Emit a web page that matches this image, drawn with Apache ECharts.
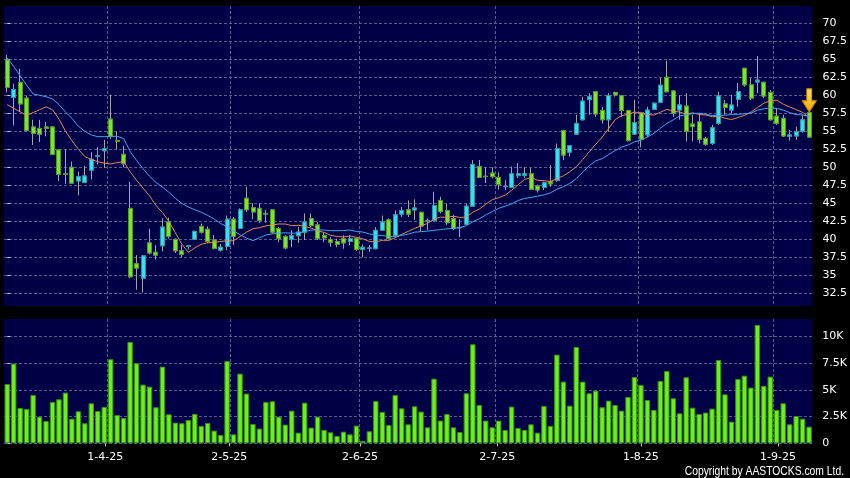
<!DOCTYPE html>
<html><head><meta charset="utf-8">
<script src="https://cdn.jsdelivr.net/npm/echarts@6/dist/echarts.min.js"></script>
<style>html,body{margin:0;padding:0;background:#000;}#c{width:850px;height:478px;}</style>
</head><body><div id="c"></div>
<script>
const dates = [
'11-3-25','12-3-25','13-3-25','14-3-25','17-3-25','18-3-25','19-3-25','20-3-25','21-3-25','24-3-25','25-3-25','26-3-25','27-3-25','28-3-25','31-3-25',
'1-4-25','2-4-25','3-4-25','7-4-25','8-4-25','9-4-25','10-4-25','11-4-25','14-4-25','15-4-25','16-4-25','17-4-25','22-4-25','23-4-25','24-4-25','25-4-25','28-4-25','29-4-25','30-4-25',
'2-5-25','6-5-25','7-5-25','8-5-25','9-5-25','12-5-25','13-5-25','14-5-25','15-5-25','16-5-25','19-5-25','20-5-25','21-5-25','22-5-25','23-5-25','26-5-25','27-5-25','28-5-25','29-5-25','30-5-25',
'2-6-25','3-6-25','4-6-25','5-6-25','6-6-25','9-6-25','10-6-25','11-6-25','12-6-25','13-6-25','16-6-25','17-6-25','18-6-25','19-6-25','20-6-25','23-6-25','24-6-25','25-6-25','26-6-25','27-6-25','30-6-25',
'2-7-25','3-7-25','4-7-25','7-7-25','8-7-25','9-7-25','10-7-25','11-7-25','14-7-25','15-7-25','16-7-25','17-7-25','18-7-25','21-7-25','22-7-25','23-7-25','24-7-25','25-7-25','28-7-25','29-7-25','30-7-25','31-7-25',
'1-8-25','4-8-25','5-8-25','6-8-25','7-8-25','8-8-25','11-8-25','12-8-25','13-8-25','14-8-25','15-8-25','18-8-25','19-8-25','20-8-25','21-8-25','22-8-25','25-8-25','26-8-25','27-8-25','28-8-25','29-8-25',
'1-9-25','2-9-25','3-9-25','4-9-25','5-9-25','8-9-25','9-9-25'];

const opens = [64.9,59.7,61.8,59.6,55.6,55.4,55.6,55.6,52.4,49.1,
50.0,48.1,47.9,49.6,51.55,52.3,56.7,53.7,51.8,44.3,
36.6,34.6,39.5,38.2,39.1,42.4,40.0,38.4,39.0,40.0,
41.8,41.4,39.9,38.5,39.0,42.8,41.5,45.7,44.4,44.3,
43.6,44.1,41.5,40.4,40.0,40.5,41.0,42.9,42.0,40.55,
39.95,39.7,40.1,39.7,40.1,38.6,38.75,38.7,41.25,42.7,
40.55,43.5,44.1,44.07,43.75,42.55,42.6,45.4,44.0,42.9,
41.6,42.1,44.6,50.1,48.75,49.2,48.6,47.3,47.2,48.85,
48.85,49.1,47.4,47.2,48.0,48.2,55.1,52.1,54.6,56.6,
59.4,60.5,57.9,56.6,60.4,59.95,57.9,54.6,57.6,54.5,
58.05,59.0,62.5,60.6,57.96,58.5,56.0,56.3,54.0,53.3,
56.1,58.8,57.95,59.45,63.75,61.45,61.85,61.8,60.4,57.1,
56.8,54.3,54.35,55.0,57.6];
const closes = [61.1,60.8,58.8,55.1,54.7,54.6,55.4,51.8,49.0,49.0,
47.8,48.7,48.8,51.1,51.6,52.6,54.3,53.6,50.5,34.8,
36.0,37.7,38.1,37.8,41.7,40.4,38.4,37.9,39.1,41.1,
41.0,39.7,38.75,38.9,42.8,40.4,44.1,44.1,43.8,42.6,
43.5,41.0,40.1,38.8,40.5,41.0,42.4,41.9,40.1,40.2,
39.6,39.3,39.5,40.1,38.6,38.9,38.8,41.25,42.4,40.1,
43.4,44.0,43.5,44.35,41.85,42.6,44.7,43.85,42.3,41.5,
41.65,44.6,50.4,48.6,48.7,48.7,47.6,47.35,49.1,49.1,
49.1,46.95,46.85,47.85,47.7,52.6,51.7,53.0,56.1,59.2,
59.8,57.4,56.6,59.95,60.05,57.9,53.7,56.2,53.9,57.95,
58.9,61.4,60.5,57.5,58.66,55.0,55.65,53.9,53.2,55.5,
59.9,58.3,58.65,60.5,61.45,59.6,62.1,59.9,56.6,56.1,
54.35,54.5,54.95,56.6,54.2];
const lows = [60.4,55.8,57.7,55.0,53.1,53.5,54.3,51.7,48.1,47.7,
47.7,46.1,47.8,48.3,50.4,49.9,53.9,52.5,50.0,34.6,
33.0,32.6,37.9,37.2,38.3,40.1,38.1,37.5,38.6,39.9,
40.8,39.5,38.6,38.3,38.5,39.2,41.4,43.8,42.8,42.3,
42.3,40.8,39.6,38.6,38.9,39.5,39.9,41.7,39.9,39.6,
39.0,38.9,38.7,39.2,38.4,37.5,38.25,38.6,41.2,40.0,
40.4,43.1,43.1,42.7,41.1,41.3,42.45,43.6,42.0,41.3,
40.3,42.0,44.5,48.5,47.8,48.5,46.9,46.85,47.1,48.5,
48.5,46.9,46.5,46.85,47.3,48.0,51.0,51.5,54.5,56.5,
57.3,57.0,56.1,54.95,59.8,57.0,53.6,54.5,52.8,54.2,
57.95,58.9,60.4,57.0,56.6,53.6,53.6,53.3,53.0,53.1,
55.9,57.3,57.5,58.4,61.2,59.35,60.3,59.6,56.5,55.9,
54.2,53.7,53.8,54.8,54.1];
const highs = [65.6,61.6,63.7,59.9,56.6,56.6,56.3,55.7,52.5,52.5,
50.8,49.4,50.2,52.1,52.8,53.8,60.1,55.0,53.0,48.0,
37.8,37.8,41.5,39.2,42.9,43.0,40.1,39.2,39.2,41.2,
42.2,41.8,40.6,39.35,43.3,43.1,44.3,47.3,45.0,45.0,
44.1,44.1,41.7,40.55,41.25,41.7,43.6,43.6,42.4,41.0,
40.3,40.1,40.55,40.55,40.3,39.3,39.2,41.7,43.3,42.9,
44.0,44.5,45.4,45.55,43.85,42.9,46.6,45.9,44.9,43.4,
42.8,44.9,51.0,51.0,50.0,50.0,49.3,48.2,50.1,50.6,
50.0,49.9,47.6,48.0,50.3,53.3,55.2,53.1,57.3,59.8,
60.3,60.5,58.4,60.3,60.5,59.95,57.95,59.35,57.7,58.4,
59.0,62.4,64.8,60.7,60.0,60.3,57.3,57.5,54.2,55.9,
60.5,59.35,60.05,61.7,63.8,62.4,65.45,61.9,60.75,58.2,
57.3,55.2,55.65,57.3,57.7];
// volume in thousands of shares
const volumes = [5.56,7.47,3.31,3.22,4.53,2.5,2.09,3.88,4.13,4.75,
2.31,3.0,1.88,3.75,3.03,3.41,7.88,2.66,2.38,9.5,
7.5,5.5,5.31,3.38,7.19,2.72,1.94,1.88,2.19,2.75,
1.63,1.91,1.19,0.78,7.72,0.84,6.53,4.66,1.81,1.38,
3.88,3.94,2.5,1.75,3.06,1.0,3.81,1.47,2.5,1.25,
1.03,0.69,1.09,0.84,1.66,0.22,1.13,3.97,2.94,1.72,
4.53,3.28,1.78,3.47,2.97,1.5,6.06,2.13,2.75,1.5,
1.06,4.69,9.28,3.59,2.13,1.5,2.13,1.25,3.44,1.44,
1.25,1.78,1.0,3.5,1.63,8.31,5.78,3.53,9.03,5.78,
4.69,4.94,3.38,4.0,3.59,3.06,4.34,6.22,5.47,4.06,
3.13,5.84,6.78,4.22,2.81,6.19,3.34,2.75,2.88,3.25,
7.81,4.59,2.03,6.03,6.34,5.22,11.09,5.38,6.25,3.13,
3.75,1.78,2.56,2.31,1.56];
const ma10Head = [58.7,58.2,57.7,57.2,57.6,58.0,58.4,58.0,56.7];
const ma20Head = [65.2,64.0,62.7,61.4,60.2,60.0,59.8,59.5,58.7,57.7,56.8,55.7,55.0,54.5,54.25,54.25,54.3,54.3,54.0];
const priceTicks = [32.5,35,37.5,40,42.5,45,47.5,50,52.5,55,57.5,60,62.5,65,67.5,70];
const volTicks = [0,2.5,5,7.5,10];
const monthLabels = ['1-4-25','2-5-25','2-6-25','2-7-25','1-8-25','1-9-25'];
const copyright = 'Copyright by AASTOCKS.com Ltd.';

function movingAvg(head, n) {
  return closes.map((c, i) => {
    if (i < n - 1) return head[i];
    let s = 0; for (let k = i - n + 1; k <= i; k++) s += closes[k];
    return +(s / n).toFixed(3);
  });
}
const ohlcFull = dates.map((d, i) => [opens[i], closes[i], lows[i], highs[i]]);
const ohlcBody = dates.map((d, i) => [opens[i], closes[i], Math.min(opens[i], closes[i]), Math.max(opens[i], closes[i])]);
const labelIdx = monthLabels.map(l => dates.indexOf(l));
// vertical grid lines sit on the boundary right after each month's first session
const vGridPos = labelIdx.map(i => i + 0.5);
const lastIdx = dates.length - 1;

const NAVY = '#000046';
const GRID = '#5a5a90';
const FONT = 'DejaVu Sans';
const dash = {color: GRID, width: 1, type: [3, 2]};
const hiddenCat = (g) => ({type: 'category', gridIndex: g, data: dates, boundaryGap: true,
  axisLine: {show: false}, axisTick: {show: false}, axisLabel: {show: false}, splitLine: {show: false}});
const vGridAxis = (g) => ({type: 'value', gridIndex: g, min: -0.5, max: lastIdx + 0.5,
  axisLine: {show: false}, axisTick: {show: false, customValues: vGridPos},
  axisLabel: {show: false, customValues: vGridPos}, splitLine: {show: true, lineStyle: dash}});

const chart = echarts.init(document.getElementById('c'));
chart.setOption({
  animation: false,
  backgroundColor: '#000000',
  textStyle: {fontFamily: FONT},
  grid: [
    {left: 4, right: 36, top: 6, height: 300, show: true, backgroundColor: NAVY, borderWidth: 0},
    {left: 4, right: 36, top: 319, height: 124.3, show: true, backgroundColor: NAVY, borderWidth: 0},
    {left: 7.24, right: 32.76, top: 319, height: 124.3, show: false}
  ],
  xAxis: [
    hiddenCat(0),
    hiddenCat(1),
    {type: 'category', gridIndex: 2, data: dates, boundaryGap: false, offset: 3,
     axisLine: {show: false},
     axisTick: {show: true, length: 3, interval: (i, v) => monthLabels.includes(v), lineStyle: {color: '#cccccc'}},
     axisLabel: {show: true, interval: (i, v) => monthLabels.includes(v), color: '#ffffff', fontSize: 11, fontFamily: FONT, margin: 5},
     splitLine: {show: false}},
    vGridAxis(0),
    vGridAxis(1)
  ],
  yAxis: [
    {type: 'value', gridIndex: 0, position: 'right', min: 30.74, max: 72.4, offset: 4,
     axisLine: {show: false},
     axisTick: {show: true, length: 3, customValues: priceTicks, lineStyle: {color: '#cccccc'}},
     axisLabel: {customValues: priceTicks, color: '#ffffff', fontSize: 11, fontFamily: FONT, margin: 6},
     splitLine: {show: true, lineStyle: dash}},
    {type: 'value', gridIndex: 1, position: 'right', min: 0, max: 11.65, offset: 4,
     axisLine: {show: false},
     axisTick: {show: true, length: 3, customValues: volTicks, lineStyle: {color: '#cccccc'}},
     axisLabel: {customValues: volTicks, color: '#ffffff', fontSize: 11, fontFamily: FONT, margin: 6,
                 formatter: v => v === 0 ? '0' : v + 'K'},
     splitLine: {show: true, lineStyle: dash}},
    {type: 'value', gridIndex: 2, show: false}
  ],
  series: [
    {type: 'candlestick', name: 'wick', xAxisIndex: 0, yAxisIndex: 0, data: ohlcFull, barWidth: 4.5, silent: true, z: 2,
     itemStyle: {color: 'rgba(0,0,0,0)', color0: 'rgba(0,0,0,0)', borderColor: '#a4a4a4', borderColor0: '#a4a4a4', borderColorDoji: '#a4a4a4', borderWidth: 1}},
    {type: 'candlestick', name: 'body', xAxisIndex: 0, yAxisIndex: 0, data: ohlcBody, barWidth: 4.5, silent: true, z: 3,
     itemStyle: {color: '#38e0ee', color0: '#7be52f', borderColor: '#2496a8', borderColor0: '#4f9a20', borderColorDoji: '#a4a4a4', borderWidth: 1},
     markPoint: {
       silent: true,
       symbol: 'path://M4.5,0 L9.5,0 L9.5,12 L14,12 L7,23 L0,12 L4.5,12 Z',
       symbolSize: [14, 23], symbolOffset: [0, '-50%'],
       label: {show: false},
       itemStyle: {color: {type: 'linear', x: 0, y: 0, x2: 0, y2: 1,
                   colorStops: [{offset: 0, color: '#ffe35a'}, {offset: 1, color: '#f6a400'}]},
                   borderColor: '#d88a00', borderWidth: 1},
       data: [{coord: [lastIdx, highs[lastIdx]]}]
     }},
    {type: 'line', name: 'MA10', xAxisIndex: 0, yAxisIndex: 0, data: movingAvg(ma10Head, 10), symbol: 'none', silent: true, z: 4,
     lineStyle: {color: '#e4875a', width: 1}},
    {type: 'line', name: 'MA20', xAxisIndex: 0, yAxisIndex: 0, data: movingAvg(ma20Head, 20), symbol: 'none', silent: true, z: 4,
     lineStyle: {color: '#45a5ea', width: 1}},
    {type: 'bar', name: 'Volume', xAxisIndex: 1, yAxisIndex: 1, data: volumes, barWidth: 5.4, silent: true,
     itemStyle: {color: '#6cf01c', borderColor: '#3a9212', borderWidth: 1}}
  ],
  graphic: [
    {type: 'text', x: 844, y: 471.5, scaleX: 0.86, silent: true,
     style: {text: copyright, fill: '#ffffff', fontSize: 12, fontFamily: 'Liberation Sans',
             textAlign: 'right', textVerticalAlign: 'middle'}}
  ]
});
</script>
</body></html>
